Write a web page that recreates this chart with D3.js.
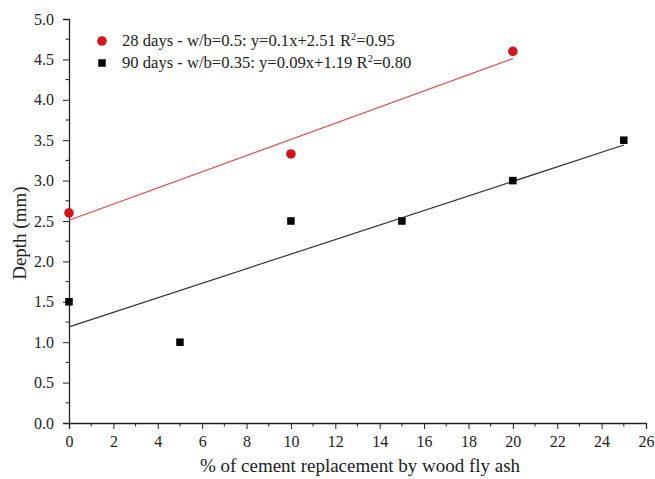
<!DOCTYPE html>
<html>
<head>
<meta charset="utf-8">
<script src="https://cdn.jsdelivr.net/npm/d3@7"></script>
<style>
  body { margin: 0; background: #fff; }
  svg text { font-family: "Liberation Serif", "Times New Roman", serif; fill: #222; }
</style>
</head>
<body>
<div id="chart"></div>
<script>
// Set up conventions
let width = 655;
let height = 479;
let margin = ({top: 19, right: 9, bottom: 56, left: 69});

// Data
let days28X = [0, 10, 20];
let days28Y = [2.6, 3.33, 4.6];
let days90X = [0, 5, 10, 15, 20, 25];
let days90Y = [1.5, 1.0, 2.5, 2.5, 3.0, 3.5];

// Linear fits as given in the legend
let fit28 = {slope: 0.1, intercept: 2.51, from: 0, to: 20};
let fit90 = {slope: 0.09, intercept: 1.19, from: 0, to: 25};

let xTicks = d3.range(0, 27, 2);
let yTicks = d3.range(0, 5.01, 0.5);
let xMinor = d3.range(1, 26, 2);
let yMinor = d3.range(0.25, 5, 0.5);

let legendLabels = [
    {text: "28 days - w/b=0.5: y=0.1x+2.51 R", sup: "2", rest: "=0.95"},
    {text: "90 days - w/b=0.35: y=0.09x+1.19 R", sup: "2", rest: "=0.80"}
];

let red = "#d2161e";
let redLine = "#e04848";
let serif = "'Liberation Serif', 'Times New Roman', serif";

let svg = d3.select("#chart")
    .append("svg")
    .attr("width", width)
    .attr("height", height);

// Create scales
let xScale = d3.scaleLinear()
    .domain([0, 26])
    .range([margin.left, width - margin.right]);

let yScale = d3.scaleLinear()
    .domain([0, 5])
    .range([height - margin.bottom, margin.top]);

// Axes
let xAxis = d3.axisBottom(xScale).tickValues(xTicks).tickFormat(d3.format("d")).tickSize(6).tickPadding(7);
let yAxis = d3.axisLeft(yScale).tickValues(yTicks).tickFormat(d3.format(".1f")).tickSize(6).tickPadding(9);

let gx = svg.append("g")
    .attr("transform", "translate(0," + (height - margin.bottom) + ")")
    .call(xAxis);

gx.selectAll(".minor")
    .data(xMinor)
    .enter()
    .append("line")
    .attr("class", "minor")
    .attr("x1", d => xScale(d))
    .attr("x2", d => xScale(d))
    .attr("y1", 0)
    .attr("y2", 3.5)
    .attr("stroke", "#222");

let gy = svg.append("g")
    .attr("transform", "translate(" + margin.left + ",0)")
    .call(yAxis);

gy.selectAll(".minor")
    .data(yMinor)
    .enter()
    .append("line")
    .attr("class", "minor")
    .attr("y1", d => yScale(d))
    .attr("y2", d => yScale(d))
    .attr("x1", 0)
    .attr("x2", -3.5)
    .attr("stroke", "#222");

svg.selectAll("g").attr("font-family", serif);
svg.selectAll(".domain").attr("stroke", "#222").attr("stroke-width", 1.3);
svg.selectAll(".tick line").attr("stroke", "#222");
svg.selectAll(".tick text")
    .attr("font-family", serif)
    .attr("font-size", 16)
    .attr("fill", "#222");

// Axis titles
svg.append("text")
    .attr("x", 360)
    .attr("y", 472)
    .attr("text-anchor", "middle")
    .attr("font-family", serif)
    .attr("font-size", 19)
    .text("% of cement replacement by wood fly ash");

svg.append("text")
    .attr("transform", "translate(26," + yScale(2.35) + ") rotate(-90)")
    .attr("text-anchor", "middle")
    .attr("font-family", serif)
    .attr("font-size", 19)
    .text("Depth (mm)");

// Fit lines
let line = d3.line()
    .x(d => xScale(d[0]))
    .y(d => yScale(d[1]));

function fitPoints(f) {
    return [[f.from, f.intercept + f.slope * f.from], [f.to, f.intercept + f.slope * f.to]];
}

svg.append("path")
    .datum(fitPoints(fit28))
    .attr("d", line)
    .attr("fill", "none")
    .attr("stroke", redLine)
    .attr("stroke-width", 1.2);

svg.append("path")
    .datum(fitPoints(fit90))
    .attr("d", line)
    .attr("fill", "none")
    .attr("stroke", "#333")
    .attr("stroke-width", 1.2);

// Markers
svg.selectAll(".dot28")
    .data(days28X.map((x, i) => [x, days28Y[i]]))
    .enter()
    .append("circle")
    .attr("class", "dot28")
    .attr("cx", d => xScale(d[0]))
    .attr("cy", d => yScale(d[1]))
    .attr("r", 4.8)
    .attr("fill", red);

let sq = 7.5;
svg.selectAll(".sq90")
    .data(days90X.map((x, i) => [x, days90Y[i]]))
    .enter()
    .append("rect")
    .attr("class", "sq90")
    .attr("x", d => xScale(d[0]) - sq / 2)
    .attr("y", d => yScale(d[1]) - sq / 2)
    .attr("width", sq)
    .attr("height", sq)
    .attr("fill", "#000");

// Legend
let legend = svg.append("g");
let rowY = [41, 63];

legend.append("circle")
    .attr("cx", 102)
    .attr("cy", rowY[0])
    .attr("r", 4.8)
    .attr("fill", red);

legend.append("rect")
    .attr("x", 102 - sq / 2)
    .attr("y", rowY[1] - sq / 2)
    .attr("width", sq)
    .attr("height", sq)
    .attr("fill", "#000");

legendLabels.forEach((l, i) => {
    let t = legend.append("text")
        .attr("x", 122)
        .attr("y", rowY[i] + 5)
        .attr("font-family", serif)
        .attr("font-size", 16.6);
    t.append("tspan").text(l.text);
    t.append("tspan").attr("dy", -6).attr("font-size", 10.5).text(l.sup);
    t.append("tspan").attr("dy", 6).text(l.rest);
});
</script>
</body>
</html>
